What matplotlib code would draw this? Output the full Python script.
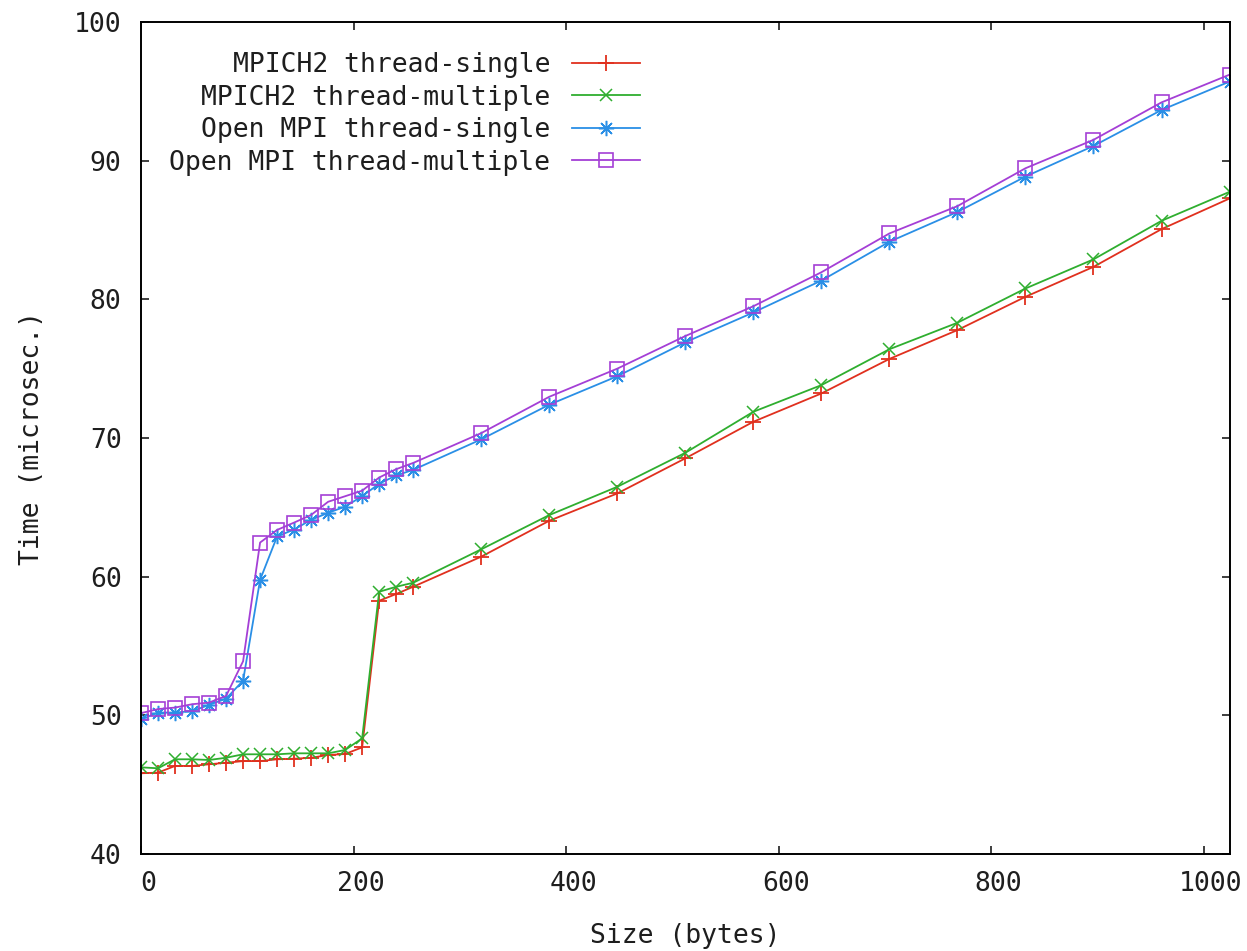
import matplotlib
matplotlib.use("Agg")
import matplotlib.pyplot as plt
from matplotlib.transforms import ScaledTranslation

# message sizes (bytes)
sizes = [0, 16, 32, 48, 64, 80, 96, 112, 128, 144, 160, 176, 192, 208,
         224, 240, 256, 320, 384, 448, 512, 576, 640, 704, 768, 832, 896, 960, 1024]

mpich_single = [45.82, 45.87, 46.35, 46.35, 46.47, 46.58, 46.70, 46.70, 46.83, 46.87,
                46.94, 47.14, 47.21, 47.69, 58.26, 58.75, 59.27, 61.44, 64.03, 66.00,
                68.53, 71.17, 73.21, 75.70, 77.78, 80.18, 82.34, 85.06, 87.27]
mpich_multiple = [46.25, 46.18, 46.83, 46.83, 46.78, 46.94, 47.19, 47.19, 47.19, 47.26,
                  47.26, 47.26, 47.50, 48.34, 58.91, 59.27, 59.56, 61.97, 64.44, 66.48,
                  68.93, 71.89, 73.81, 76.40, 78.31, 80.78, 82.88, 85.66, 87.75]
ompi_single = [49.70, 50.20, 50.20, 50.30, 50.75, 51.20, 52.50, 59.77, 62.90, 63.40,
               64.10, 64.60, 65.05, 65.80, 66.70, 67.30, 67.70, 69.90, 72.40, 74.45,
               76.90, 79.05, 81.35, 84.15, 86.30, 88.85, 91.06, 93.65, 95.70]
ompi_multiple = [50.16, 50.45, 50.56, 50.80, 50.92, 51.40, 53.90, 62.46, 63.37, 63.90,
                 64.45, 65.40, 65.80, 66.20, 67.15, 67.75, 68.20, 70.35, 72.97, 75.00,
                 77.35, 79.50, 81.95, 84.75, 86.72, 89.45, 91.50, 94.20, 96.20]

labels = ["MPICH2 thread-single", "MPICH2 thread-multiple",
          "Open MPI thread-single", "Open MPI thread-multiple"]

plt.rcParams['font.family'] = ['DejaVu Sans Mono']
fs = 19
txt_color = '#1e1e1e'

fig = plt.figure(figsize=(12.47, 9.51), dpi=100)
ax = fig.add_axes([0.1131, 0.102, 0.8729, 0.8749])

ax.plot(sizes, mpich_single, color='#e0301e', lw=1.3, marker='+', ms=11, mew=1.3,
        label=labels[0])
ax.plot(sizes, mpich_multiple, color='#2fae2f', lw=1.3, marker='x', ms=9, mew=1.1,
        label=labels[1])
ax.plot(sizes, ompi_single, color='#2a8fe6', lw=1.3, marker=(8, 2, 0), ms=11, mew=1.1,
        label=labels[2])
ax.plot(sizes, ompi_multiple, color='#a43fd6', lw=1.3, marker='s', ms=10, mew=1.2,
        mfc='none', label=labels[3])

ax.set_xlim(0, 1024)
ax.set_ylim(40, 100)
ax.set_xticks([0, 200, 400, 600, 800, 1000])
ax.set_yticks([40, 50, 60, 70, 80, 90, 100])

ax.tick_params(direction='in', length=6, width=1.2, top=True, right=True,
               labelsize=fs, colors=txt_color)
ax.tick_params(axis='y', pad=14)
ax.tick_params(axis='x', pad=12)
for s in ax.spines.values():
    s.set_linewidth(1.4)

# gnuplot puts the x labels a bit to the right of the ticks
for lab in ax.get_xticklabels():
    lab.set_transform(lab.get_transform() + ScaledTranslation(0.07, 0, fig.dpi_scale_trans))

ax.set_xlabel("Size (bytes)", fontsize=fs, labelpad=19, color=txt_color)
ax.set_ylabel("Time (microsec.)", fontsize=fs, labelpad=21, color=txt_color)

leg = ax.legend(loc='upper right', bbox_to_anchor=(0.4585, 0.964), frameon=False,
                markerfirst=False, fontsize=fs, handlelength=2.6, handletextpad=0.8,
                borderaxespad=0, borderpad=0, labelspacing=0.25)
for t in leg.get_texts():
    t.set_ha('right')
    t.set_color(txt_color)

fig.savefig("out.png", dpi=100)
